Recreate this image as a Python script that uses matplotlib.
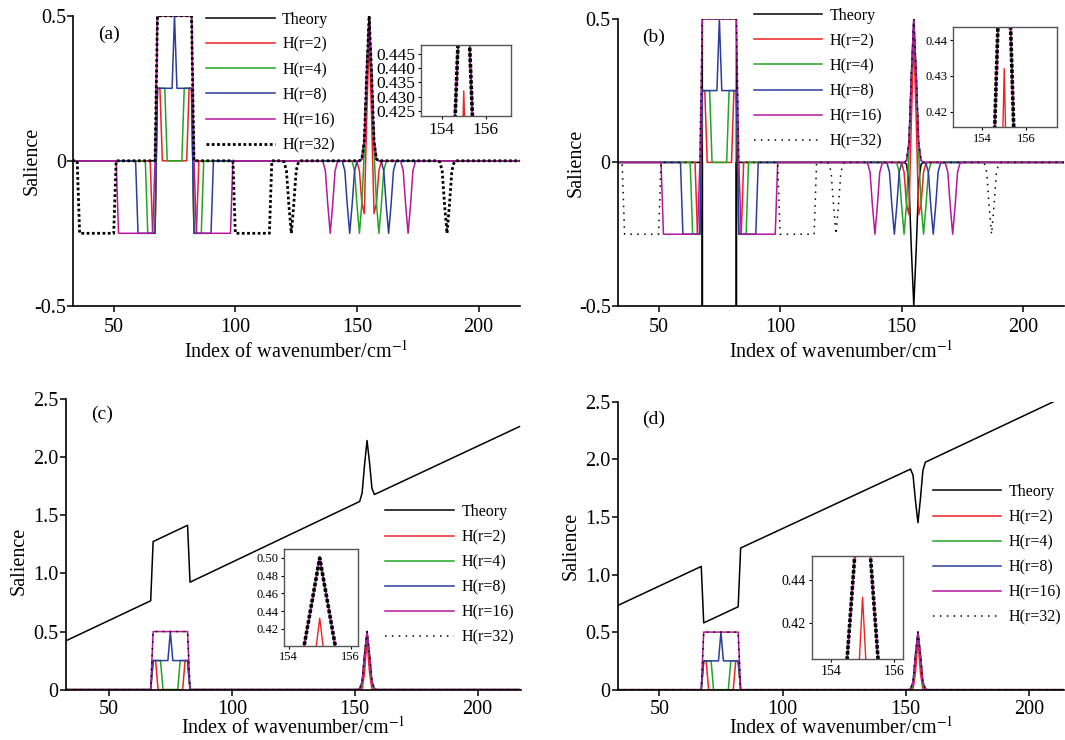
import matplotlib
matplotlib.use("Agg")
import matplotlib.pyplot as plt

plt.rcParams['font.family'] = 'Liberation Serif'
plt.rcParams['mathtext.fontset'] = 'stix'

# ---- data: (index, salience) vertices ----
theory_a = [(33, 0), (67, 0), (68, 0.5), (82, 0.5), (83, 0), (151, 0), (152, 0.006), (153, 0.068),
            (154, 0.303), (155, 0.5), (156, 0.303), (157, 0.068), (158, 0.006), (159, 0), (217, 0)]
theory_b = [(33, 0), (68, 0), (68, -5), (68, 0.5), (82, 0.5), (82, -5), (82, 0), (151, 0), (152, -0.006),
            (153, -0.068), (154, -0.303), (155, -0.5), (156, -0.303), (157, -0.068), (158, -0.006),
            (159, 0), (217, 0)]
theory_c = [(33, 0.425), (67, 0.765), (68, 1.275), (82, 1.415), (83, 0.925), (152, 1.62), (153, 1.693),
            (154, 1.938), (155, 2.145), (156, 1.958), (157, 1.733), (158, 1.68), (217, 2.265)]
theory_d = [(33, 0.73), (67, 1.07), (68, 0.58), (82, 0.72), (83, 1.23), (152, 1.915), (153, 1.862),
            (154, 1.637), (155, 1.45), (156, 1.657), (157, 1.902), (158, 1.975), (217, 2.57)]

h2 = [(33, 0), (65, 0), (66, -0.25), (67, -0.25), (68, 0.25), (69, 0.25), (70, 0), (80, 0), (81, 0.25),
      (82, 0.25), (83, -0.25), (84, -0.25), (85, 0), (149, 0), (150, -0.003), (151, -0.034), (152, -0.146),
      (153, -0.182), (154, 0.149), (155, 0.432), (156, 0.149), (157, -0.182), (158, -0.146), (159, -0.034),
      (160, -0.003), (161, 0), (217, 0)]
h4 = [(33, 0), (63, 0), (64, -0.25), (67, -0.25), (68, 0.25), (71, 0.25), (72, 0), (78, 0), (79, 0.25),
      (82, 0.25), (83, -0.25), (86, -0.25), (87, 0), (147, 0), (148, -0.003), (149, -0.034), (150, -0.152),
      (151, -0.25), (152, -0.146), (153, 0.034), (154, 0.300), (155, 0.4998), (156, 0.300), (157, 0.034),
      (158, -0.146), (159, -0.25), (160, -0.152), (161, -0.034), (162, -0.003), (163, 0), (217, 0)]
h8 = [(33, 0), (59, 0), (60, -0.25), (67, -0.25), (68, 0.25), (74, 0.25), (75, 0.5), (76, 0.25), (82, 0.25),
      (83, -0.25), (90, -0.25), (91, 0), (143, 0), (144, -0.003), (145, -0.034), (146, -0.152), (147, -0.25),
      (148, -0.152), (149, -0.034), (150, -0.003), (151, 0), (152, 0.006), (153, 0.068), (154, 0.303),
      (155, 0.5), (156, 0.303), (157, 0.068), (158, 0.006), (159, 0), (160, -0.003), (161, -0.034),
      (162, -0.152), (163, -0.25), (164, -0.152), (165, -0.034), (166, -0.003), (167, 0), (217, 0)]
h16 = [(33, 0), (51, 0), (52, -0.25), (66, -0.25), (67, 0), (68, 0.5), (82, 0.5), (83, 0), (84, -0.25),
       (98, -0.25), (99, 0), (135, 0), (136, -0.003), (137, -0.034), (138, -0.152), (139, -0.25),
       (140, -0.152), (141, -0.034), (142, -0.003), (143, 0), (151, 0), (152, 0.006), (153, 0.068),
       (154, 0.303), (155, 0.5), (156, 0.303), (157, 0.068), (158, 0.006), (159, 0), (167, 0), (168, -0.003),
       (169, -0.034), (170, -0.152), (171, -0.25), (172, -0.152), (173, -0.034), (174, -0.003), (175, 0),
       (217, 0)]
h32 = [(33, 0), (35, 0), (36, -0.25), (50, -0.25), (51, 0), (67, 0), (68, 0.5), (82, 0.5), (83, 0), (99, 0),
       (100, -0.25), (114, -0.25), (115, 0), (119, 0), (120, -0.003), (121, -0.034), (122, -0.152),
       (123, -0.25), (124, -0.152), (125, -0.034), (126, -0.003), (127, 0), (151, 0), (152, 0.006),
       (153, 0.068), (154, 0.303), (155, 0.5), (156, 0.303), (157, 0.068), (158, 0.006), (159, 0), (183, 0),
       (184, -0.003), (185, -0.034), (186, -0.152), (187, -0.25), (188, -0.152), (189, -0.034),
       (190, -0.003), (191, 0), (217, 0)]

# salience curves of panels (c) and (d)
h2_pos = [(33, 0), (67, 0), (68, 0.25), (69, 0.25), (70, 0), (80, 0), (81, 0.25), (82, 0.25), (83, 0),
          (153, 0), (154, 0.149), (155, 0.432), (156, 0.149), (157, 0), (217, 0)]
h4_pos = [(33, 0), (67, 0), (68, 0.25), (71, 0.25), (72, 0), (78, 0), (79, 0.25), (82, 0.25), (83, 0),
          (152, 0), (153, 0.034), (154, 0.3), (155, 0.4998), (156, 0.3), (157, 0.034), (158, 0), (217, 0)]
h8_pos = [(33, 0), (67, 0), (68, 0.25), (74, 0.25), (75, 0.5), (76, 0.25), (82, 0.25), (83, 0), (151, 0),
          (152, 0.006), (153, 0.068), (154, 0.303), (155, 0.5), (156, 0.303), (157, 0.068), (158, 0.006),
          (159, 0), (217, 0)]
h16_pos = [(33, 0), (67, 0), (68, 0.5), (82, 0.5), (83, 0), (151, 0), (152, 0.006), (153, 0.068), (154, 0.303),
           (155, 0.5), (156, 0.303), (157, 0.068), (158, 0.006), (159, 0), (217, 0)]
h32_pos = [(33, 0), (67, 0), (68, 0.5), (82, 0.5), (83, 0), (151, 0), (152, 0.006), (153, 0.068), (154, 0.303),
           (155, 0.5), (156, 0.303), (157, 0.068), (158, 0.006), (159, 0), (217, 0)]

labels = ['Theory', 'H(r=2)', 'H(r=4)', 'H(r=8)', 'H(r=16)', 'H(r=32)']
colors = ['black', '#ee2222', '#22a522', '#2b3c9e', '#b5179e', 'black']

main_ticks_ab = [-0.5, 0, 0.5]
main_labels_ab = ['-0.5', '0', '0.5']
main_ticks_cd = [0, 0.5, 1.0, 1.5, 2.0, 2.5]
main_labels_cd = ['0', '0.5', '1.0', '1.5', '2.0', '2.5']

W, H = 1065, 740
fig = plt.figure(figsize=(W / 100, H / 100), dpi=100)


def add_px(box):
    l, t, r, b = box
    return fig.add_axes([l / W, 1 - b / H, (r - l) / W, (b - t) / H])


def unzip(pts):
    return [p[0] for p in pts], [p[1] for p in pts]


panels = [
    dict(tag='(a)', theory=theory_a, hs=[h2, h4, h8, h16, h32], box=(73.3, 15.8, 520, 305.8),
         xlim=(33.4, 217), ylim=(-0.5, 0.5), yt=main_ticks_ab, yl=main_labels_ab,
         dot=((0, (1, 0.9)), 2.0), leg=(206, 11.7), ylab=-0.072, xlab=-0.12, xva='top', xpad=4.5,
         tagy=0.937,
         ibox=(421, 45, 511, 116), ixlim=(153.07, 157.13), iylim=(0.4232, 0.4482),
         iyt=[0.425, 0.430, 0.435, 0.440, 0.445], iyl=['0.425', '0.430', '0.435', '0.440', '0.445'], ifs=12.5),
    dict(tag='(b)', theory=theory_b, hs=[h2, h4, h8, h16, h32], box=(618, 18.8, 1064, 306),
         xlim=(33.3, 216.8), ylim=(-0.5, 0.5), yt=main_ticks_ab, yl=main_labels_ab,
         dot=((0, (1, 3.5)), 1.1), leg=(753.5, 7.8), ylab=-0.072, xlab=-0.122, xva='top', xpad=4.5,
         tagy=0.937,
         ibox=(953, 26.5, 1057, 127), ixlim=(152.69, 157.38), iylim=(0.4157, 0.4438),
         iyt=[0.42, 0.43, 0.44], iyl=['0.42', '0.43', '0.44'], ifs=9),
    dict(tag='(c)', theory=theory_c, hs=[h2_pos, h4_pos, h8_pos, h16_pos, h32_pos],
         box=(66.1, 399.3, 520.7, 689.6), xlim=(32.6, 217.5), ylim=(0, 2.5), yt=main_ticks_cd,
         yl=main_labels_cd, dot=((0, (1, 3.5)), 1.1), leg=(385, 504), ylab=-0.083, xlab=-0.170,
         xva='bottom', xpad=3.0, tagy=0.947, ylaby=0.443,
         ibox=(284.1, 549.1, 358.1, 645.5), ixlim=(153.85, 156.24), iylim=(0.4014, 0.510),
         iyt=[0.42, 0.44, 0.46, 0.48, 0.50], iyl=['0.42', '0.44', '0.46', '0.48', '0.50'], ifs=9),
    dict(tag='(d)', theory=theory_d, hs=[h2_pos, h4_pos, h8_pos, h16_pos, h32_pos],
         box=(618, 401.7, 1064, 689.7), xlim=(33.2, 214.3), ylim=(0, 2.5), yt=main_ticks_cd,
         yl=main_labels_cd, dot=((0, (1, 3.5)), 1.1), leg=(932.6, 484), ylab=-0.083, xlab=-0.171,
         xva='bottom', xpad=3.0, tagy=0.94,
         ibox=(811.7, 555.7, 902.7, 659.3), ixlim=(153.39, 156.27), iylim=(0.4034, 0.4512),
         iyt=[0.42, 0.44], iyl=['0.42', '0.44'], ifs=10),
]

for p in panels:
    ax = add_px(p['box'])
    series = [p['theory']] + p['hs']
    for i, pts in enumerate(series):
        x, y = unzip(pts)
        if i == 5:
            ax.plot(x, y, color='black', ls=p['dot'][0], lw=p['dot'][1], label=labels[i])
        else:
            ax.plot(x, y, color=colors[i], lw=1.1, label=labels[i])
    ax.set_xlim(*p['xlim'])
    ax.set_ylim(*p['ylim'])
    ax.set_xticks([50, 100, 150, 200])
    ax.set_xticklabels(['50', '100', '150', '200'])
    ax.set_yticks(p['yt'])
    ax.set_yticklabels(p['yl'])
    for s in ['top', 'right']:
        ax.spines[s].set_visible(False)
    for s in ['left', 'bottom']:
        ax.spines[s].set_linewidth(1.2)
    ax.tick_params(axis='x', direction='out', length=4.3, width=1.1, pad=p['xpad'], labelsize=14.5)
    ax.tick_params(axis='y', direction='out', length=4.3, width=1.1, pad=1.0, labelsize=14.5)
    ax.set_ylabel('Salience', fontsize=14.5)
    ax.yaxis.set_label_coords(p['ylab'], p.get('ylaby', 0.5))
    ax.set_xlabel('Index of wavenumber/cm$^{-1}$', fontsize=14.5)
    ax.xaxis.set_label_coords(0.5, p['xlab'])
    ax.xaxis.label.set_verticalalignment(p['xva'])
    ax.text(0.055, p['tagy'], p['tag'], transform=ax.transAxes, fontsize=14, va='center', ha='left')
    lx, lt = p['leg']
    ax.legend(loc='upper left', bbox_to_anchor=(lx / W, 1 - lt / H), bbox_transform=fig.transFigure,
              frameon=False, fontsize=11.5, handlelength=4.3, handletextpad=0.47, labelspacing=0.57,
              borderpad=0, borderaxespad=0)

    # zoomed inset around the 155 peak
    axi = add_px(p['ibox'])
    for i, pts in enumerate(series):
        x, y = unzip(pts)
        if i == 5:
            axi.plot(x, y, color='black', ls=(0, (1, 0.5)), lw=2.6)
        else:
            axi.plot(x, y, color=colors[i], lw=1.0)
    axi.set_xlim(*p['ixlim'])
    axi.set_ylim(*p['iylim'])
    axi.set_xticks([154, 156])
    axi.set_xticklabels(['154', '156'])
    axi.set_yticks(p['iyt'])
    axi.set_yticklabels(p['iyl'])
    for s in axi.spines.values():
        s.set_color('#555555')
        s.set_linewidth(1.0)
    axi.tick_params(direction='out', length=2.5, width=0.8, pad=1.5, labelsize=p['ifs'])

fig.savefig('out.png', dpi=100)
